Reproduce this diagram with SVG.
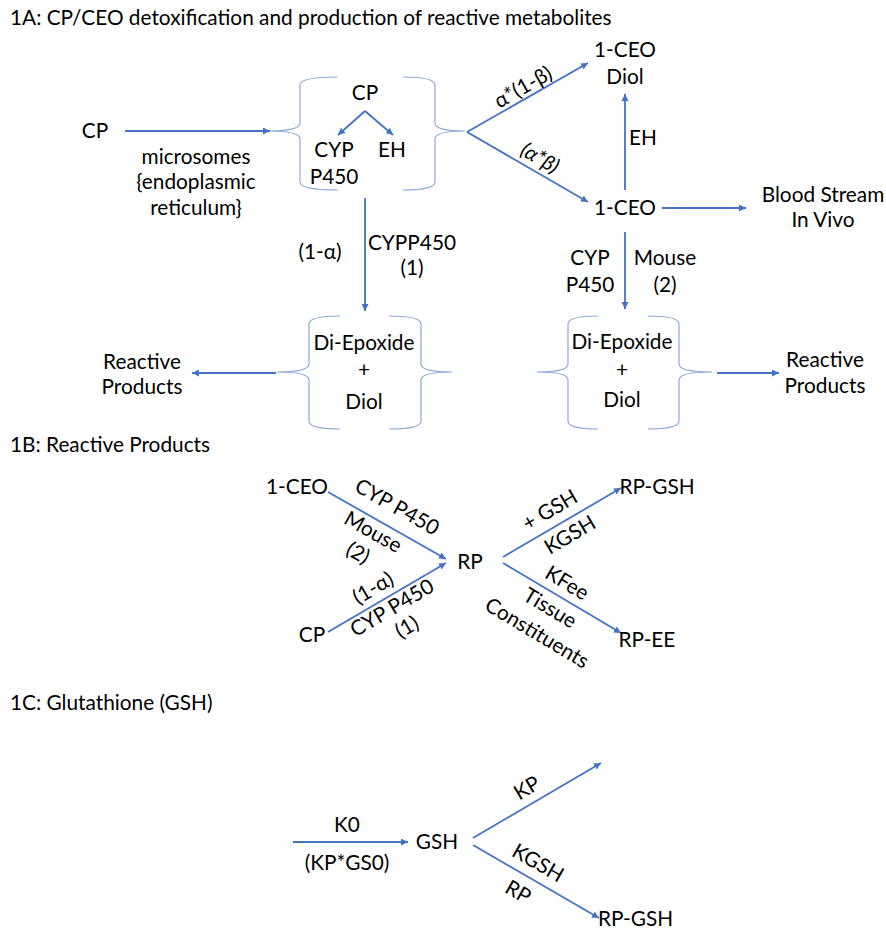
<svg xmlns="http://www.w3.org/2000/svg" width="886" height="932" viewBox="0 0 886 932">
<style>
text{font-family:Lato,"Liberation Sans",sans-serif;font-size:20.8px;fill:#000}
.m{text-anchor:middle}
.c{stroke:#4472C4;stroke-width:1.8;fill:none}
.b{stroke:#8EA9DB;stroke-width:1.2;fill:none}
</style>
<defs>
<marker id="a" viewBox="0 0 10 10" refX="10" refY="5" markerWidth="7" markerHeight="7" markerUnits="userSpaceOnUse" orient="auto">
<path d="M0,0 L10,5 L0,10 z" fill="#4472C4"/>
</marker>
</defs>
<rect width="886" height="932" fill="#fff"/>

<g id="titles">
<text x="10" y="25">1A: CP/CEO detoxification and production of reactive metabolites</text>
<text x="10" y="452">1B: Reactive Products</text>
<text x="10" y="710">1C: Glutathione (GSH)</text>
</g>

<g id="braces">
<path class="b" d="M338,77 Q300,77 300,85 L300,123 Q300,131 268,131 Q300,131 300,139 L300,182 Q300,190 338,190"/>
<path class="b" d="M403,77 Q435,77 435,85 L435,123 Q435,131 465,131 Q435,131 435,139 L435,182 Q435,190 403,190"/>
<path class="b" d="M340,316 Q309,316 309,324 L309,364 Q309,372 277,372 Q309,372 309,380 L309,421 Q309,429 340,429"/>
<path class="b" d="M389,316 Q421,316 421,324 L421,364 Q421,372 452,372 Q421,372 421,380 L421,421 Q421,429 389,429"/>
<path class="b" d="M598,316 Q568,316 568,324 L568,364 Q568,372 537,372 Q568,372 568,380 L568,421 Q568,429 598,429"/>
<path class="b" d="M648,316 Q679,316 679,324 L679,364 Q679,372 712,372 Q679,372 679,380 L679,421 Q679,429 648,429"/>
</g>

<g id="connectors">
<line class="c" x1="125" y1="131" x2="270" y2="131" marker-end="url(#a)"/>
<line class="c" x1="365" y1="111" x2="338" y2="135" marker-end="url(#a)"/>
<line class="c" x1="365" y1="111" x2="393" y2="135" marker-end="url(#a)"/>
<line class="c" x1="467" y1="132" x2="588" y2="63" marker-end="url(#a)"/>
<line class="c" x1="467" y1="132" x2="588" y2="202" marker-end="url(#a)"/>
<line class="c" x1="625" y1="190" x2="625" y2="94" marker-end="url(#a)"/>
<line class="c" x1="662" y1="208" x2="746" y2="208" marker-end="url(#a)"/>
<line class="c" x1="365" y1="198" x2="365" y2="311" marker-end="url(#a)"/>
<line class="c" x1="276" y1="373" x2="192" y2="373" marker-end="url(#a)"/>
<line class="c" x1="625" y1="232" x2="625" y2="309" marker-end="url(#a)"/>
<line class="c" x1="717" y1="373" x2="779" y2="373" marker-end="url(#a)"/>
<line class="c" x1="328" y1="492" x2="446" y2="559" marker-end="url(#a)"/>
<line class="c" x1="328" y1="632" x2="446" y2="563" marker-end="url(#a)"/>
<line class="c" x1="503" y1="557" x2="621" y2="488" marker-end="url(#a)"/>
<line class="c" x1="503" y1="563" x2="621" y2="633" marker-end="url(#a)"/>
<line class="c" x1="293" y1="842" x2="408" y2="842" marker-end="url(#a)"/>
<line class="c" x1="473" y1="838" x2="601" y2="763" marker-end="url(#a)"/>
<line class="c" x1="473" y1="845" x2="599" y2="918" marker-end="url(#a)"/>
</g>

<g id="n-cp"><text class="m" x="95" y="138">CP</text></g>
<g id="l-microsomes">
<text class="m" x="196" y="164">microsomes</text>
<text class="m" x="196" y="189">{endoplasmic</text>
<text class="m" x="196" y="215">reticulum}</text>
</g>
<g id="n-cpgroup">
<text class="m" x="365" y="100">CP</text>
<text class="m" x="334" y="157">CYP</text>
<text class="m" x="334" y="184">P450</text>
<text class="m" x="392" y="157">EH</text>
</g>
<g id="n-ceodiol">
<text class="m" x="625" y="57">1-CEO</text>
<text class="m" x="625" y="84">Diol</text>
</g>
<g id="n-ceo"><text class="m" x="625" y="215">1-CEO</text></g>
<g id="n-blood">
<text class="m" x="823" y="202">Blood Stream</text>
<text class="m" x="823" y="227">In Vivo</text>
</g>
<g id="l-1a">
<text class="m" transform="translate(523,87) rotate(-29.7)" y="7">α*(1-β)</text>
<text class="m" transform="translate(540,158) rotate(30)" y="7" font-style="italic">(α*β)</text>
<text class="m" x="643" y="145">EH</text>
<text class="m" x="320" y="259">(1-α)</text>
<text class="m" x="412" y="250">CYPP450</text>
<text class="m" x="412" y="275">(1)</text>
<text class="m" x="590" y="265">CYP</text>
<text class="m" x="590" y="292">P450</text>
<text class="m" x="665" y="265">Mouse</text>
<text class="m" x="665" y="292">(2)</text>
</g>
<g id="n-di1">
<text class="m" x="364" y="350">Di-Epoxide</text>
<text class="m" x="364" y="377">+</text>
<text class="m" x="364" y="409">Diol</text>
</g>
<g id="n-di2">
<text class="m" x="622" y="349">Di-Epoxide</text>
<text class="m" x="622" y="377">+</text>
<text class="m" x="622" y="407">Diol</text>
</g>
<g id="n-rp1">
<text class="m" x="142" y="369">Reactive</text>
<text class="m" x="142" y="394">Products</text>
</g>
<g id="n-rp2">
<text class="m" x="825" y="367">Reactive</text>
<text class="m" x="825" y="393">Products</text>
</g>

<g id="n-1b-ceo"><text class="m" x="297" y="494">1-CEO</text></g>
<g id="n-1b-cp"><text class="m" x="312" y="642">CP</text></g>
<g id="n-1b-rp"><text class="m" x="470" y="569">RP</text></g>
<g id="n-1b-rpgsh"><text class="m" x="657" y="494">RP-GSH</text></g>
<g id="n-1b-rpee"><text class="m" x="647" y="647">RP-EE</text></g>
<g id="l-1b">
<text class="m" transform="translate(397,507) rotate(29.4)" y="7">CYP P450</text>
<text class="m" transform="translate(373,532) rotate(29.4)" y="7">Mouse</text>
<text class="m" transform="translate(358,553) rotate(29.4)" y="7">(2)</text>
<text class="m" transform="translate(373,588) rotate(-30.5)" y="7">(1-α)</text>
<text class="m" transform="translate(392,608) rotate(-30.5)" y="7">CYP P450</text>
<text class="m" transform="translate(407,627) rotate(-30.5)" y="7">(1)</text>
<text class="m" transform="translate(550,510) rotate(-30.5)" y="7">+ GSH</text>
<text class="m" transform="translate(570,535) rotate(-30.5)" y="7">KGSH</text>
<text class="m" transform="translate(567,583) rotate(30.9)" y="7">KFee</text>
<text class="m" transform="translate(550,608) rotate(30.9)" y="7">Tissue</text>
<text class="m" transform="translate(537,633) rotate(30.9)" y="7">Constituents</text>
</g>

<g id="n-1c-gsh"><text class="m" x="437" y="849">GSH</text></g>
<g id="n-1c-rpgsh"><text x="598" y="926">RP-GSH</text></g>
<g id="l-1c">
<text class="m" x="347" y="832">K0</text>
<text class="m" x="347" y="870">(KP*GS0)</text>
<text class="m" transform="translate(527,788) rotate(-30.6)" y="7">KP</text>
<text class="m" transform="translate(538,863) rotate(29.9)" y="7">KGSH</text>
<text class="m" transform="translate(518,892) rotate(29.9)" y="7">RP</text>
</g>
</svg>
